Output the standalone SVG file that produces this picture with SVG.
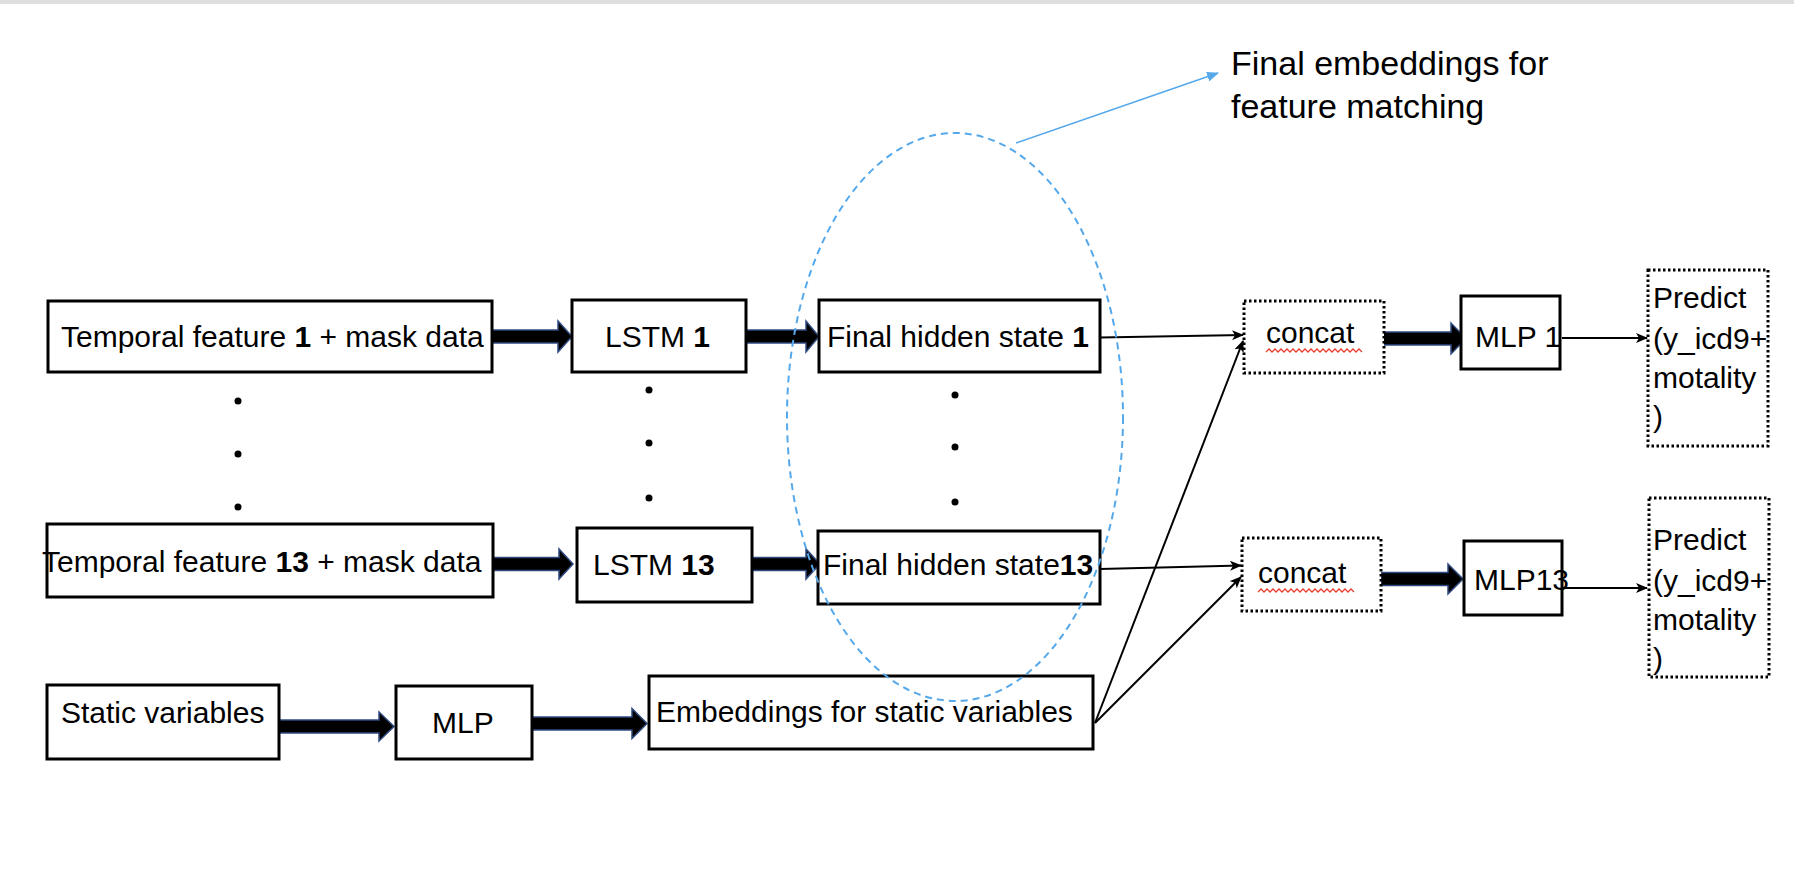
<svg xmlns="http://www.w3.org/2000/svg" width="1794" height="884" viewBox="0 0 1794 884">
<style>
  .box{fill:#fff;stroke:#000;stroke-width:3}
  .dbox{fill:#fff;stroke:#000;stroke-width:3;stroke-dasharray:2.5 2.5}
  .t{font-family:"Liberation Sans",Arial,sans-serif;font-size:30px;fill:#000}
  .lbl{font-family:"Liberation Sans",Arial,sans-serif;font-size:34px;fill:#000}
  .b{font-weight:bold}
  .fat{fill:#000;stroke:#2F4A80;stroke-width:1.5;stroke-linejoin:miter}
  .thin{fill:none;stroke:#000;stroke-width:2;marker-end:url(#ah)}
  .blue{fill:none;stroke:#55A8EA;stroke-width:1.5;marker-end:url(#ahb)}
  .ell{fill:none;stroke:#55A8EA;stroke-width:2;stroke-dasharray:7 5}
  .dot{fill:#000}
  .wavy{fill:none;stroke:#E8402F;stroke-width:1.3}
</style>
<defs>
  <marker id="ah" viewBox="0 0 12 10" refX="11" refY="5" markerWidth="12" markerHeight="10" markerUnits="userSpaceOnUse" orient="auto">
    <path d="M0,0 L12,5 L0,10 L3,5 z" fill="#000"/>
  </marker>
  <marker id="ahb" viewBox="0 0 12 10" refX="11" refY="5" markerWidth="12" markerHeight="10" markerUnits="userSpaceOnUse" orient="auto">
    <path d="M0,0 L12,5 L0,10 z" fill="#55A8EA"/>
  </marker>
</defs>
<rect x="0" y="0" width="1794" height="884" fill="#fff"/>
<rect x="0" y="0" width="1794" height="4" fill="#DEDEDE"/>

<g id="connectors">
  <polygon class="fat" points="492,330 558,330 558,321 572,336.5 558,352 558,343 492,343"/>
  <polygon class="fat" points="739,330 806,330 806,321 819,336.5 806,352 806,343 739,343"/>
  <polygon class="fat" points="492,557.5 559,557.5 559,549 573,564 559,579 559,570.5 492,570.5"/>
  <polygon class="fat" points="739,557.5 806,557.5 806,549 820,564 806,579 806,570.5 739,570.5"/>
  <polygon class="fat" points="1383,332 1451,332 1451,323 1466,338.5 1451,354 1451,345 1383,345"/>
  <polygon class="fat" points="1381,572.5 1448,572.5 1448,564 1463,579 1448,594 1448,585.5 1381,585.5"/>
  <polygon class="fat" points="275,720 379,720 379,712 394,726.5 379,741 379,733 275,733"/>
  <polygon class="fat" points="532,717 632,717 632,708.5 647,723.5 632,738.5 632,730 532,730"/>
  <line class="thin" x1="1100" y1="337.5" x2="1243" y2="335"/>
  <line class="thin" x1="1100" y1="569" x2="1241" y2="565.5"/>
  <line class="thin" x1="1095" y1="723" x2="1243" y2="341"/>
  <line class="thin" x1="1095" y1="723" x2="1241" y2="577"/>
  <line class="thin" x1="1562" y1="338" x2="1647" y2="338"/>
  <line class="thin" x1="1562" y1="588" x2="1647" y2="588"/>
  <line class="blue" x1="1016" y1="143" x2="1218" y2="73"/>
</g>

<g id="temporal1">
  <rect class="box" x="48" y="301" width="444" height="71"/>
  <text class="t" x="61" y="347">Temporal feature <tspan class="b">1</tspan> + mask data</text>
</g>
<g id="lstm1">
  <rect class="box" x="572" y="300" width="174" height="72"/>
  <text class="t" x="605" y="347">LSTM <tspan class="b">1</tspan></text>
</g>
<g id="hidden1">
  <rect class="box" x="819" y="300" width="281" height="72"/>
  <text class="t" x="827" y="347">Final hidden state <tspan class="b">1</tspan></text>
</g>
<g id="concat1">
  <rect class="dbox" x="1244" y="301" width="140" height="72"/>
  <text class="t" x="1266" y="343">concat</text>
  <path class="wavy" d="M1266,352 l3,-3 l3,3 l3,-3 l3,3 l3,-3 l3,3 l3,-3 l3,3 l3,-3 l3,3 l3,-3 l3,3 l3,-3 l3,3 l3,-3 l3,3 l3,-3 l3,3 l3,-3 l3,3 l3,-3 l3,3 l3,-3 l3,3 l3,-3 l3,3 l3,-3 l3,3 l3,-3 l3,3 l3,-3 l3,3"/>
</g>
<g id="mlp1">
  <rect class="box" x="1461" y="296" width="99" height="73"/>
  <text class="t" x="1475" y="347">MLP 1</text>
</g>
<g id="predict1">
  <rect class="dbox" x="1648" y="270" width="120" height="176"/>
  <text class="t" x="1653" y="308">Predict</text>
  <text class="t" x="1653" y="349">(y_icd9+</text>
  <text class="t" x="1653" y="388">motality</text>
  <text class="t" x="1653" y="427">)</text>
</g>

<g id="dots">
  <circle class="dot" cx="238" cy="401" r="3.5"/>
  <circle class="dot" cx="238" cy="454" r="3.5"/>
  <circle class="dot" cx="238" cy="507" r="3.5"/>
  <circle class="dot" cx="649" cy="390" r="3.5"/>
  <circle class="dot" cx="649" cy="443" r="3.5"/>
  <circle class="dot" cx="649" cy="498" r="3.5"/>
  <circle class="dot" cx="955" cy="395" r="3.5"/>
  <circle class="dot" cx="955" cy="447" r="3.5"/>
  <circle class="dot" cx="955" cy="502" r="3.5"/>
</g>

<g id="temporal13">
  <rect class="box" x="47" y="524" width="446" height="73"/>
  <text class="t" x="42" y="572">Temporal feature <tspan class="b">13</tspan> + mask data</text>
</g>
<g id="lstm13">
  <rect class="box" x="577" y="528" width="175" height="74"/>
  <text class="t" x="593" y="575">LSTM <tspan class="b">13</tspan></text>
</g>
<g id="hidden13">
  <rect class="box" x="818" y="531" width="282" height="73"/>
  <text class="t" x="823" y="575">Final hidden state<tspan class="b">13</tspan></text>
</g>
<g id="concat13">
  <rect class="dbox" x="1242" y="538" width="139" height="73"/>
  <text class="t" x="1258" y="583">concat</text>
  <path class="wavy" d="M1258,592 l3,-3 l3,3 l3,-3 l3,3 l3,-3 l3,3 l3,-3 l3,3 l3,-3 l3,3 l3,-3 l3,3 l3,-3 l3,3 l3,-3 l3,3 l3,-3 l3,3 l3,-3 l3,3 l3,-3 l3,3 l3,-3 l3,3 l3,-3 l3,3 l3,-3 l3,3 l3,-3 l3,3 l3,-3 l3,3"/>
</g>
<g id="mlp13">
  <rect class="box" x="1464" y="541" width="98" height="74"/>
  <text class="t" x="1474" y="590">MLP13</text>
</g>
<g id="predict13">
  <rect class="dbox" x="1649" y="498" width="120" height="179"/>
  <text class="t" x="1653" y="550">Predict</text>
  <text class="t" x="1653" y="591">(y_icd9+</text>
  <text class="t" x="1653" y="630">motality</text>
  <text class="t" x="1653" y="669">)</text>
</g>

<g id="static">
  <rect class="box" x="47" y="685" width="232" height="74"/>
  <text class="t" x="61" y="723">Static variables</text>
</g>
<g id="mlp">
  <rect class="box" x="396" y="686" width="136" height="73"/>
  <text class="t" x="432" y="733">MLP</text>
</g>
<g id="embeddings">
  <rect class="box" x="649" y="676" width="444" height="73"/>
  <text class="t" x="656" y="722">Embeddings for static variables</text>
</g>

<g id="final-embeddings-group">
  <ellipse class="ell" cx="955" cy="417" rx="168" ry="284"/>
</g>
<g id="final-embeddings-label">
  <text class="lbl" x="1231" y="75">Final embeddings for</text>
  <text class="lbl" x="1231" y="118">feature matching</text>
</g>
</svg>
